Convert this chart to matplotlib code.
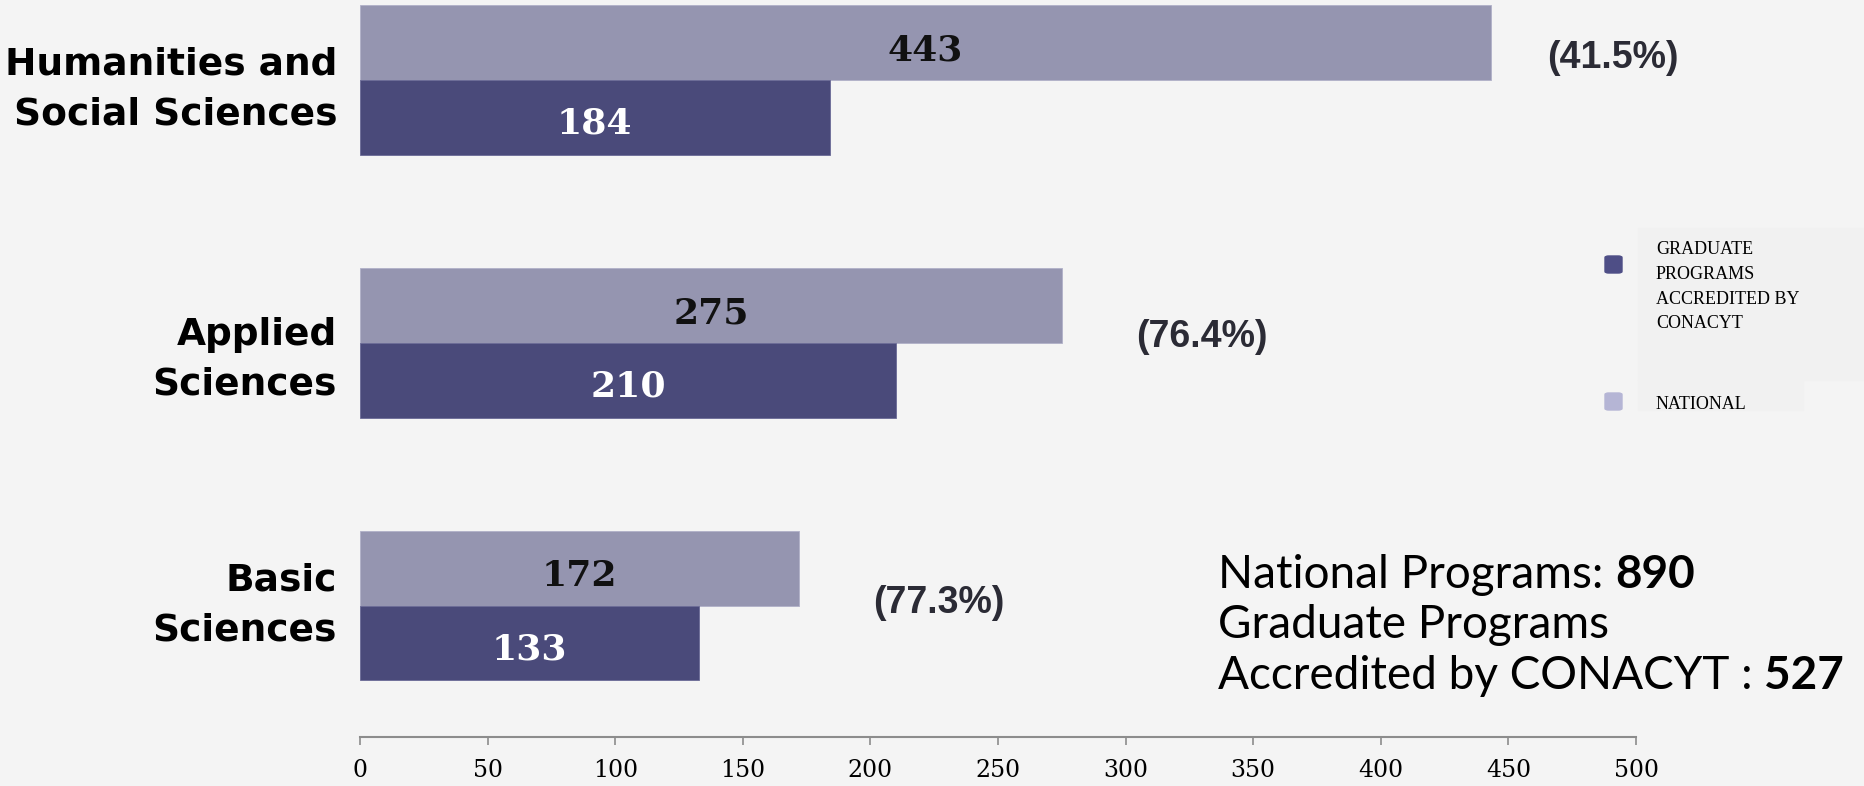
import numpy as np
import matplotlib
matplotlib.use('Agg')
import matplotlib.pyplot as plt
from matplotlib.patches import FancyBboxPatch, Rectangle

# data
categories = ['Basic\nSciences', 'Applied\nSciences', 'Humanities and\nSocial Sciences']
national = [172, 275, 443]
accredited = [133, 210, 184]
pct_labels = ['(77.3%)', '(76.4%)', '(41.5%)']
pct_x = [201, 304, 465]
pct_dy = [0.01, 0.02, 0.085]
label_dy = [0.0, -0.065, -0.035]
ticks = [0, 50, 100, 150, 200, 250, 300, 350, 400, 450, 500]
total_national = 890
total_accredited = 527

bg = '#F4F4F4'
c_nat = '#9595B0'
c_acc = '#4A4A7A'

W, H = 1864, 786
fig = plt.figure(figsize=(W / 100, H / 100), dpi=100, facecolor=bg)
ax = fig.add_axes([360 / W, 1 - 737 / H, 1276 / W, 737 / H])
ax.set_facecolor('none')

y = np.arange(len(categories))
h = 0.285
ax.barh(y + h / 2, national, height=h, color=c_nat, edgecolor='#B0B0C8', linewidth=0.6)
ax.barh(y - h / 2, accredited, height=h, color=c_acc, edgecolor='#6A6A96', linewidth=0.6)

for i in range(len(y)):
    ax.text(national[i] / 2, y[i] + h / 2 - 0.03, str(national[i]), ha='center', va='center',
            fontsize=26, fontweight='bold', family='DejaVu Serif', color='#111111')
    ax.text(accredited[i] / 2, y[i] - h / 2 - 0.025, str(accredited[i]), ha='center', va='center',
            fontsize=26, fontweight='bold', family='DejaVu Serif', color='white')
    ax.text(pct_x[i], y[i] + pct_dy[i], pct_labels[i], ha='left', va='center',
            fontsize=27, fontweight='bold', family='Liberation Sans', color='#2B2B35')
    ax.text(-9, y[i] + label_dy[i], categories[i], ha='right', va='center',
            fontsize=27, fontweight='bold', family='DejaVu Sans', color='black',
            linespacing=1.5)

ax.set_xlim(0, 500)
ax.set_ylim(-0.5, 2.304)
ax.set_yticks([])
ax.set_xticks(ticks)
ax.set_xticklabels([str(t) for t in ticks], family='DejaVu Serif', fontsize=17)
ax.tick_params(axis='x', length=6, width=1.2, color='#8C8C8C', pad=10)
for s in ['top', 'right', 'left']:
    ax.spines[s].set_visible(False)
ax.spines['bottom'].set_color('#8C8C8C')
ax.spines['bottom'].set_linewidth(1.5)

# legend block
fig.patches.append(Rectangle((1638 / W, 1 - 380 / H), 226 / W, 152 / H,
                             transform=fig.transFigure, color='#F1F1F1', zorder=0))
fig.patches.append(Rectangle((1638 / W, 1 - 410 / H), 165 / W, 30 / H,
                             transform=fig.transFigure, color='#F1F1F1', zorder=0))
fig.patches.append(FancyBboxPatch((1605 / W, 1 - 273 / H), 17 / W, 17 / H,
                                  boxstyle='round,pad=0,rounding_size=0.002',
                                  transform=fig.transFigure, color='#4E4E86'))
fig.patches.append(FancyBboxPatch((1605 / W, 1 - 410 / H), 17 / W, 17 / H,
                                  boxstyle='round,pad=0,rounding_size=0.002',
                                  transform=fig.transFigure, color='#B5B5D5'))
fig.text(1656 / W, 1 - 241 / H, 'GRADUATE\nPROGRAMS\nACCREDITED BY\nCONACYT', ha='left', va='top',
         fontsize=13, family='Liberation Serif', color='black', linespacing=1.6)
fig.text(1656 / W, 1 - 404 / H, 'NATIONAL', ha='left', va='center',
         fontsize=13, family='Liberation Serif', color='black')

# totals box
fig.canvas.draw()
r = fig.canvas.get_renderer()
lines = [('National Programs: ', str(total_national), 575),
         ('Graduate Programs', '', 625),
         ('Accredited by CONACYT : ', str(total_accredited), 676)]
for txt, num, py in lines:
    t = fig.text(1218 / W, 1 - py / H, txt, ha='left', va='center', fontsize=33,
                 family='Lato', fontweight='normal', color='black')
    if num:
        bb = t.get_window_extent(renderer=r)
        fig.text(bb.x1 / W, 1 - py / H, num, ha='left', va='center', fontsize=33,
                 family='Lato', fontweight='bold', color='black')

fig.savefig('out.png', dpi=100, facecolor=bg)
